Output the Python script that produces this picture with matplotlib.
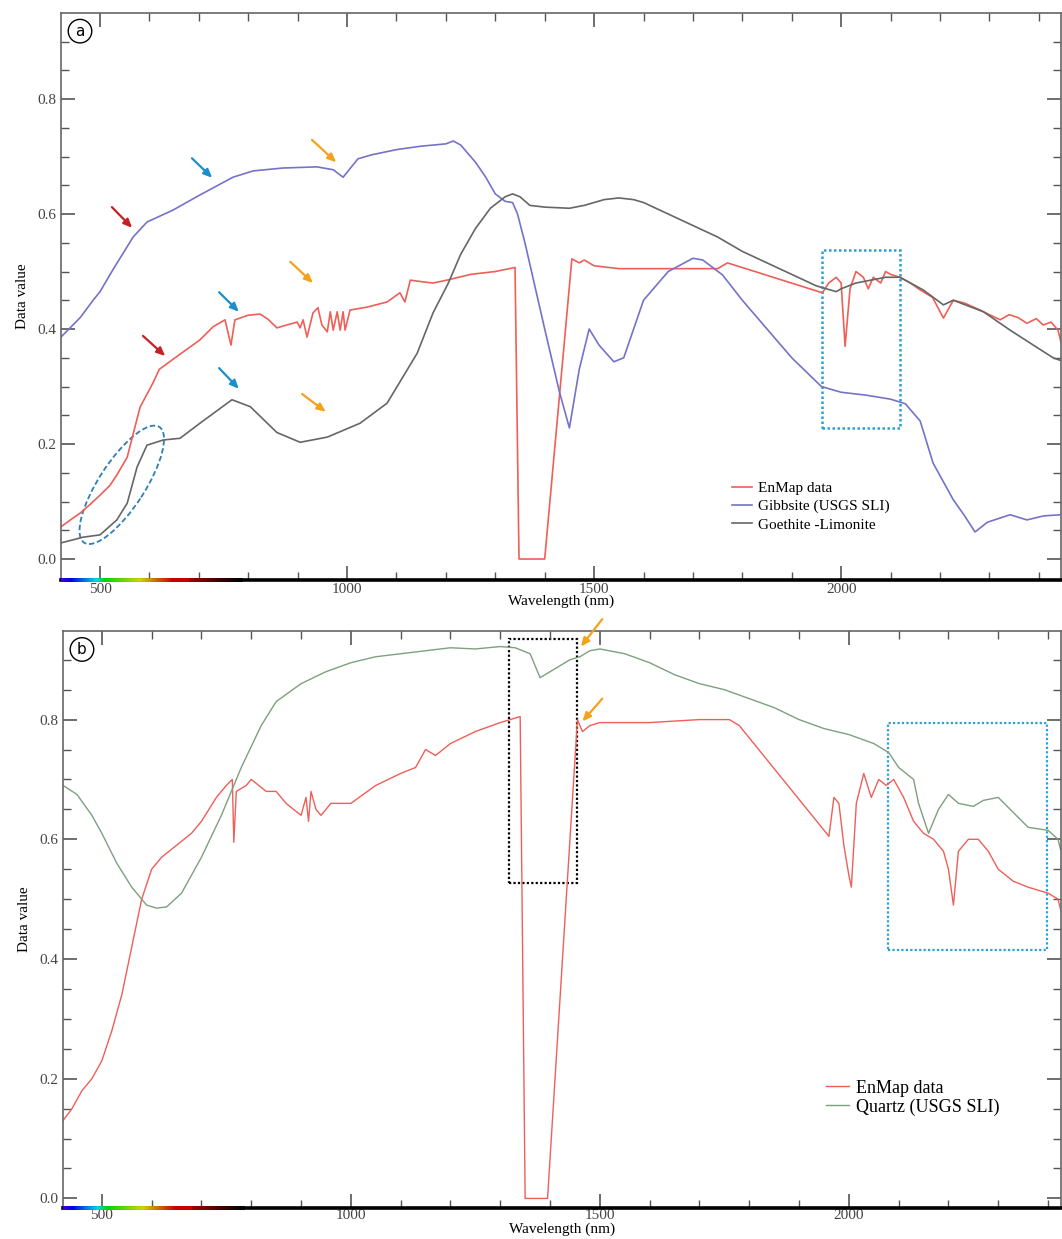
#!/usr/bin/env python
# coding: utf-8

import numpy as np
import matplotlib
matplotlib.use('Agg')
import matplotlib.pyplot as plt
import matplotlib.patches as mpatches
import matplotlib.transforms as mtransforms
from matplotlib.collections import LineCollection
from matplotlib.ticker import MultipleLocator

# ---- panel (a) ----
enmap_a_wl = [421, 440, 460, 480, 500, 520, 534, 555, 581, 607, 620, 660, 702, 729, 753, 765, 773, 800, 824, 840, 858, 878,
	899, 905, 911, 919, 931, 941, 949, 960, 966, 972, 980, 986, 992, 996, 1006, 1040, 1081, 1107, 1117, 1128, 1154, 1174,
	1202, 1250, 1300, 1340, 1348, 1400, 1455, 1470, 1480, 1500, 1550, 1600, 1650, 1700, 1750, 1770, 1962, 1975, 1990,
	2000, 2008, 2018, 2030, 2045, 2055, 2065, 2080, 2090, 2100, 2119, 2140, 2160, 2185, 2207, 2227, 2250, 2281, 2300,
	2322, 2340, 2358, 2376, 2395, 2409, 2425, 2439, 2445]
enmap_a_val = [0.056, 0.068, 0.080, 0.095, 0.111, 0.128, 0.146, 0.177, 0.264, 0.306, 0.330, 0.355, 0.381, 0.404, 0.416, 0.372,
	0.416, 0.424, 0.426, 0.417, 0.402, 0.407, 0.412, 0.402, 0.416, 0.386, 0.428, 0.437, 0.407, 0.395, 0.430, 0.398, 0.430,
	0.398, 0.430, 0.398, 0.433, 0.438, 0.447, 0.463, 0.447, 0.485, 0.482, 0.480, 0.485, 0.495, 0.500, 0.507, 0.0, 0.0,
	0.522, 0.515, 0.520, 0.510, 0.505, 0.505, 0.505, 0.505, 0.505, 0.515, 0.463, 0.480, 0.490, 0.480, 0.370, 0.470, 0.500,
	0.490, 0.470, 0.490, 0.480, 0.500, 0.495, 0.490, 0.480, 0.468, 0.455, 0.419, 0.450, 0.445, 0.433, 0.425, 0.416, 0.425,
	0.420, 0.410, 0.418, 0.407, 0.412, 0.398, 0.377]

gibbsite_wl = [421, 460, 486, 500, 526, 567, 595, 648, 702, 769, 810, 870, 939, 972, 992, 1022, 1050, 1100, 1150, 1200,
	1215, 1230, 1260, 1280, 1300, 1320, 1335, 1345, 1360, 1400, 1430, 1450, 1470, 1490, 1510, 1540, 1560, 1600, 1650,
	1700, 1720, 1760, 1800, 1850, 1900, 1960, 2000, 2050, 2100, 2130, 2160, 2186, 2227, 2250, 2271, 2296, 2342, 2376,
	2410, 2445]
gibbsite_val = [0.386, 0.420, 0.450, 0.465, 0.503, 0.560, 0.586, 0.607, 0.633, 0.664, 0.675, 0.680, 0.682, 0.677, 0.664,
	0.696, 0.703, 0.712, 0.718, 0.722, 0.727, 0.720, 0.690, 0.665, 0.635, 0.622, 0.620, 0.600, 0.550, 0.400, 0.290, 0.228,
	0.330, 0.400, 0.372, 0.343, 0.350, 0.450, 0.500, 0.523, 0.520, 0.494, 0.450, 0.400, 0.350, 0.300, 0.290, 0.285, 0.278,
	0.270, 0.240, 0.167, 0.103, 0.075, 0.047, 0.064, 0.077, 0.068, 0.075, 0.077]

goethite_wl = [421, 466, 500, 534, 555, 575, 595, 628, 662, 702, 767, 804, 858, 905, 960, 1026, 1081, 1142, 1174, 1205,
	1230, 1260, 1290, 1320, 1335, 1350, 1370, 1400, 1450, 1480, 1520, 1550, 1580, 1600, 1650, 1700, 1750, 1800, 1850,
	1900, 1950, 1990, 2000, 2030, 2060, 2090, 2119, 2166, 2207, 2227, 2288, 2342, 2389, 2429, 2445]
goethite_val = [0.028, 0.038, 0.042, 0.068, 0.097, 0.160, 0.198, 0.207, 0.210, 0.236, 0.277, 0.265, 0.220, 0.203, 0.212,
	0.236, 0.271, 0.358, 0.428, 0.480, 0.530, 0.575, 0.610, 0.630, 0.635, 0.630, 0.615, 0.612, 0.610, 0.615, 0.625, 0.628,
	0.625, 0.620, 0.600, 0.580, 0.560, 0.535, 0.515, 0.495, 0.475, 0.465, 0.470, 0.480, 0.485, 0.490, 0.490, 0.468, 0.442,
	0.450, 0.430, 0.398, 0.372, 0.350, 0.345]

# ---- panel (b) ----
enmap_b_wl = [422, 440, 460, 480, 500, 520, 540, 560, 580, 600, 620, 650, 680, 700, 730, 750, 762, 765, 770, 790, 800, 830,
	850, 870, 900, 910, 915, 920, 930, 940, 960, 1000, 1050, 1100, 1130, 1150, 1170, 1200, 1250, 1300, 1340, 1350, 1395,
	1455, 1465, 1480, 1500, 1600, 1700, 1760, 1780, 1960, 1970, 1980, 1990, 2000, 2005, 2015, 2030, 2045, 2060, 2075,
	2090, 2110, 2130, 2150, 2170, 2190, 2200, 2210, 2220, 2240, 2260, 2280, 2300, 2330, 2360, 2400, 2420, 2426]
enmap_b_val = [0.13, 0.15, 0.18, 0.20, 0.23, 0.28, 0.34, 0.42, 0.50, 0.55, 0.57, 0.59, 0.61, 0.63, 0.67, 0.69, 0.70, 0.595,
	0.68, 0.69, 0.70, 0.68, 0.68, 0.66, 0.64, 0.67, 0.63, 0.68, 0.65, 0.64, 0.66, 0.66, 0.69, 0.71, 0.72, 0.75, 0.74, 0.76,
	0.78, 0.795, 0.805, 0.0, 0.0, 0.80, 0.78, 0.79, 0.795, 0.795, 0.80, 0.80, 0.79, 0.605, 0.67, 0.66, 0.59, 0.54, 0.52,
	0.66, 0.71, 0.67, 0.70, 0.69, 0.70, 0.67, 0.63, 0.61, 0.60, 0.58, 0.55, 0.49, 0.58, 0.60, 0.60, 0.58, 0.55, 0.53, 0.52,
	0.51, 0.50, 0.48]

quartz_wl = [422, 450, 480, 500, 530, 560, 590, 610, 630, 660, 700, 740, 780, 820, 850, 900, 950, 1000, 1050, 1100, 1150,
	1200, 1250, 1300, 1330, 1360, 1380, 1400, 1440, 1460, 1480, 1500, 1550, 1600, 1650, 1700, 1750, 1800, 1850, 1900,
	1950, 2000, 2050, 2080, 2100, 2130, 2140, 2160, 2180, 2200, 2220, 2250, 2270, 2300, 2330, 2360, 2400, 2420, 2426]
quartz_val = [0.69, 0.675, 0.64, 0.61, 0.56, 0.52, 0.49, 0.485, 0.487, 0.51, 0.57, 0.64, 0.72, 0.79, 0.83, 0.86, 0.88,
	0.895, 0.905, 0.91, 0.915, 0.92, 0.918, 0.922, 0.92, 0.91, 0.87, 0.88, 0.90, 0.905, 0.915, 0.918, 0.91, 0.895, 0.875,
	0.86, 0.85, 0.835, 0.82, 0.80, 0.785, 0.775, 0.76, 0.745, 0.72, 0.70, 0.66, 0.61, 0.65, 0.675, 0.66, 0.655, 0.665,
	0.67, 0.645, 0.62, 0.615, 0.60, 0.58]

legend_a = ['EnMap data', 'Gibbsite (USGS SLI)', 'Goethite -Limonite']
legend_b = ['EnMap data', 'Quartz (USGS SLI)']

RED = '#ee5f58'
BLUE = '#7373c9'
GRAY = '#666666'
GREEN = '#7da07d'

plt.rcParams['font.family'] = ['Liberation Serif', 'DejaVu Serif']


def wavelength_rgb(wl):
	# Bruton style approximation of visible colours
	if wl < 440:
		r, g, b = -(wl - 440) / 60.0, 0.0, 1.0
	elif wl < 490:
		r, g, b = 0.0, (wl - 440) / 50.0, 1.0
	elif wl < 510:
		r, g, b = 0.0, 1.0, -(wl - 510) / 20.0
	elif wl < 580:
		r, g, b = (wl - 510) / 70.0, 1.0, 0.0
	elif wl < 645:
		r, g, b = 1.0, -(wl - 645) / 65.0, 0.0
	else:
		r, g, b = 1.0, 0.0, 0.0
	if wl < 420:
		f = 0.3 + 0.7 * (wl - 380) / 40.0
	elif wl > 680:
		f = max(0.0, 1.0 - (wl - 680) / 100.0) * 0.8
	else:
		f = 1.0
	return (r * f * 0.8, g * f * 0.85, b * f * 0.9)


def style_axes(ax, xlim, ylim, letter, xpad=2, labelpad=-1):
	ax.set_xlim(*xlim)
	ax.set_ylim(*ylim)
	ax.xaxis.set_major_locator(MultipleLocator(500))
	ax.xaxis.set_minor_locator(MultipleLocator(100))
	ax.yaxis.set_major_locator(MultipleLocator(0.2))
	ax.yaxis.set_minor_locator(MultipleLocator(0.05))
	ax.yaxis.set_major_formatter(matplotlib.ticker.FormatStrFormatter('%.1f'))
	ax.tick_params(which='both', direction='in', top=True, right=True, colors='#555555', labelcolor='#444444', labelsize=11)
	ax.tick_params(which='major', length=10, width=1.2)
	ax.tick_params(which='minor', length=6, width=1.0)
	ax.tick_params(axis='x', pad=xpad)
	for s in ['left', 'top', 'right']:
		ax.spines[s].set_color('#666666')
		ax.spines[s].set_linewidth(1.2)
	ax.spines['bottom'].set_color('black')
	ax.spines['bottom'].set_linewidth(2.6)
	ax.set_xlabel('Wavelength (nm)', fontsize=11, labelpad=labelpad)
	ax.set_ylabel('Data value', fontsize=11, labelpad=6)

	# visible spectrum strip along the wavelength axis
	wl = np.arange(xlim[0], 790, 2.0)
	pts = np.array([[w, 0.0] for w in wl])
	segs = [[pts[i], pts[i + 1]] for i in range(len(pts) - 1)]
	trans = mtransforms.blended_transform_factory(ax.transData, ax.transAxes)
	lc = LineCollection(segs, colors=[wavelength_rgb(w) for w in wl[:-1]], linewidths=2.8, transform=trans,
		clip_on=False, zorder=5)
	ax.add_collection(lc)

	ax.text(0.019, 0.968, letter, transform=ax.transAxes, ha='center', va='center', fontsize=11, family='DejaVu Sans',
		bbox=dict(boxstyle='circle,pad=0.28', fc='white', ec='black', lw=1.0))


def arrow(ax, start, end, color):
	ax.annotate('', xy=end, xytext=start, annotation_clip=False,
		arrowprops=dict(arrowstyle='-|>,head_length=0.5,head_width=0.22', color=color, lw=1.6, shrinkA=0, shrinkB=0))


def main():
	fig = plt.figure(figsize=(10.62, 12.39), dpi=100)

	# ---------------- (a)
	ax = fig.add_axes([61 / 1062, 1 - 580 / 1239, 1000 / 1062, 567 / 1239])
	ax.plot(enmap_a_wl, enmap_a_val, color=RED, lw=1.2, label=legend_a[0])
	ax.plot(gibbsite_wl, gibbsite_val, color=BLUE, lw=1.2, label=legend_a[1])
	ax.plot(goethite_wl, goethite_val, color=GRAY, lw=1.2, label=legend_a[2])
	style_axes(ax, (421, 2445), (-0.0365, 0.9496), 'a')

	ax.add_patch(mpatches.Rectangle((1962, 0.228), 157, 0.309, fill=False, ec='#2b9fd6', lw=1.8, ls=(0, (1, 1))))
	ell_trans = fig.dpi_scale_trans + mtransforms.ScaledTranslation(544, 0.129, ax.transData)
	ax.add_patch(mpatches.Ellipse((0, 0), 1.38, 0.46, angle=57, fill=False, ec='#2f7fb5', lw=1.3, ls=(0, (3, 1.5)),
		transform=ell_trans))

	arrow(ax, (524, 0.612), (565, 0.576), '#c42126')
	arrow(ax, (587, 0.388), (632, 0.353), '#c42126')
	arrow(ax, (686, 0.697), (727, 0.663), '#1b8fcc')
	arrow(ax, (741, 0.464), (781, 0.430), '#1b8fcc')
	arrow(ax, (741, 0.332), (781, 0.296), '#1b8fcc')
	arrow(ax, (929, 0.729), (978, 0.690), '#f5a21b')
	arrow(ax, (885, 0.517), (931, 0.480), '#f5a21b')
	arrow(ax, (909, 0.287), (957, 0.256), '#f5a21b')

	ax.legend(loc='upper left', bbox_to_anchor=(0.665, 0.185), frameon=False, fontsize=11, handlelength=1.3,
		handletextpad=0.4, labelspacing=0.3, borderaxespad=0)

	# ---------------- (b)
	ax = fig.add_axes([63 / 1062, 1 - 1208 / 1239, 998 / 1062, 577 / 1239])
	ax.plot(enmap_b_wl, enmap_b_val, color=RED, lw=1.0, label=legend_b[0])
	ax.plot(quartz_wl, quartz_val, color=GREEN, lw=1.0, label=legend_b[1])
	style_axes(ax, (422, 2426), (-0.016, 0.948), 'b', xpad=1, labelpad=0)

	ax.add_patch(mpatches.Rectangle((1318, 0.527), 137, 0.408, fill=False, ec='black', lw=1.6, ls=(0, (1, 1))))
	ax.add_patch(mpatches.Rectangle((2078, 0.415), 320, 0.38, fill=False, ec='#2b9fd6', lw=1.6, ls=(0, (1, 1))))
	arrow(ax, (1505, 0.968), (1462, 0.922), '#f5a21b')
	arrow(ax, (1505, 0.835), (1465, 0.797), '#f5a21b')

	ax.legend(loc='upper left', bbox_to_anchor=(0.757, 0.235), frameon=False, fontsize=13, handlelength=1.3,
		handletextpad=0.4, labelspacing=0.1, borderaxespad=0)

	fig.savefig('out.png', dpi=100)

#--------------------------------------------------------------------

if '__main__' == __name__:
	main()
